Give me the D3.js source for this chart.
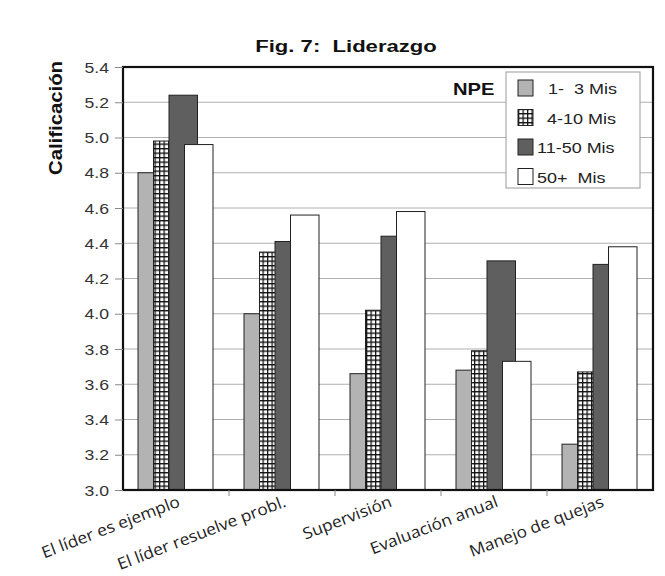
<!DOCTYPE html>
<html>
<head>
<meta charset="utf-8">
<script src="https://cdn.jsdelivr.net/npm/d3@7"></script>
<style>
  body { margin: 0; background: #fff; }
  text { font-family: "Liberation Sans", Arial, sans-serif; white-space: pre; }
</style>
</head>
<body>
<div id="chart"></div>
<script>
const categories = ["El líder es ejemplo", "El líder resuelve probl.", "Supervisión", "Evaluación anual", "Manejo de quejas"];
const seriesNames = ["1-  3 Mis", "4-10 Mis", "11-50 Mis", "50+  Mis"];
const s1to3 = [4.80, 4.00, 3.66, 3.68, 3.26];
const s4to10 = [4.98, 4.35, 4.02, 3.79, 3.67];
const s11to50 = [5.24, 4.41, 4.44, 4.30, 4.28];
const s50plus = [4.96, 4.56, 4.58, 3.73, 4.38];
const yTicks = [3.0, 3.2, 3.4, 3.6, 3.8, 4.0, 4.2, 4.4, 4.6, 4.8, 5.0, 5.2, 5.4];

const seriesValues = [s1to3, s4to10, s11to50, s50plus];

const width = 665, height = 576;
const margin = { top: 67, right: 12, bottom: 86, left: 123 };
const innerW = width - margin.left - margin.right;
const innerH = height - margin.top - margin.bottom;

// the original text is a bit wider than it is tall
const sx = 1.26;

const svg = d3.select("#chart")
  .append("svg")
  .attr("width", width)
  .attr("height", height);

const defs = svg.append("defs");
const pat = defs.append("pattern")
  .attr("id", "grid")
  .attr("patternUnits", "userSpaceOnUse")
  .attr("width", 4.5)
  .attr("height", 4.5);
pat.append("rect").attr("width", 4.5).attr("height", 4.5).attr("fill", "#fff");
pat.append("path")
  .attr("d", "M0,0.6H4.5M0.6,0V4.5")
  .attr("stroke", "#111")
  .attr("stroke-width", 1.3);

const fills = ["#b3b3b3", "url(#grid)", "#5f5f5f", "#ffffff"];

const g = svg.append("g")
  .attr("transform", `translate(${margin.left},${margin.top})`);

const x0 = d3.scaleBand()
  .domain(categories)
  .range([0, innerW]);

const x1 = d3.scaleBand()
  .domain(seriesNames)
  .range([15, 15 + 4 * 15.5]);

const barW = 28.5;

const y = d3.scaleLinear()
  .domain([3.0, 5.4])
  .range([innerH, 0]);

// gridlines
g.append("g")
  .selectAll("line")
  .data(yTicks)
  .enter().append("line")
  .attr("x1", 0)
  .attr("x2", innerW)
  .attr("y1", d => y(d))
  .attr("y2", d => y(d))
  .attr("stroke", "#b0b0b0")
  .attr("stroke-width", 1);

// bars, drawn series by series so later ones sit on top
categories.forEach((cat, ci) => {
  seriesNames.forEach((s, si) => {
    const v = seriesValues[si][ci];
    g.append("rect")
      .attr("x", x0(cat) + x1(s))
      .attr("y", y(v))
      .attr("width", barW)
      .attr("height", y(3.0) - y(v))
      .attr("fill", fills[si])
      .attr("stroke", "#222")
      .attr("stroke-width", 1);
  });
});

// frame
g.append("rect")
  .attr("width", innerW)
  .attr("height", innerH)
  .attr("fill", "none")
  .attr("stroke", "#111")
  .attr("stroke-width", 2.2);

// y axis
const yAxis = g.append("g")
  .call(d3.axisLeft(y).tickValues(yTicks).tickFormat(d3.format(".1f")).tickSize(8));
yAxis.select(".domain").remove();
yAxis.selectAll("line").attr("stroke", "#888");
yAxis.selectAll("text")
  .attr("x", null)
  .attr("dy", null)
  .attr("transform", `translate(-14,5) scale(${sx},1)`)
  .attr("font-size", 14)
  .attr("fill", "#333")
  .style("font-family", "'Liberation Sans', Arial, sans-serif");

// x axis ticks at group boundaries
const xAxis = g.append("g")
  .attr("transform", `translate(0,${innerH})`);
xAxis.selectAll("line")
  .data(categories.slice(1))
  .enter().append("line")
  .attr("x1", d => x0(d))
  .attr("x2", d => x0(d))
  .attr("y1", 0)
  .attr("y2", 6)
  .attr("stroke", "#888");

xAxis.selectAll("text")
  .data(categories)
  .enter().append("text")
  .attr("transform", d => `translate(${x0(d) + x0.bandwidth() / 2 + 5},${16}) rotate(-21) scale(1.08,1)`)
  .attr("text-anchor", "end")
  .attr("font-size", 16)
  .attr("fill", "#222")
  .style("font-family", "'Open Sans', sans-serif")
  .text(d => d);

// title
svg.append("text")
  .attr("transform", `translate(346,52) scale(1.3,1)`)
  .attr("text-anchor", "middle")
  .attr("font-size", 17)
  .attr("font-weight", "bold")
  .attr("fill", "#111")
  .text("Fig. 7:  Liderazgo");

// y label
svg.append("text")
  .attr("transform", "translate(62,118) rotate(-90) scale(1.13,1)")
  .attr("text-anchor", "middle")
  .attr("font-size", 18)
  .attr("font-weight", "bold")
  .attr("fill", "#111")
  .text("Calificación");

// NPE
svg.append("text")
  .attr("transform", `translate(453,95) scale(${sx},1)`)
  .attr("font-size", 16)
  .attr("font-weight", "bold")
  .attr("fill", "#111")
  .text("NPE");

// legend
const legend = svg.append("g").attr("transform", "translate(506,72)");
legend.append("rect")
  .attr("width", 134)
  .attr("height", 116)
  .attr("fill", "#fff")
  .attr("stroke", "#999")
  .attr("stroke-width", 1);

const rows = legend.selectAll(".row")
  .data(seriesNames)
  .enter().append("g")
  .attr("class", "row")
  .attr("transform", (d, i) => `translate(12,${16 + i * 29.5})`);

rows.append("rect")
  .attr("x", 0)
  .attr("y", -8)
  .attr("width", 15)
  .attr("height", 16)
  .attr("fill", (d, i) => fills[i])
  .attr("stroke", "#222")
  .attr("stroke-width", 1);

rows.append("text")
  .attr("transform", (d, i) => `translate(${i === 0 ? 30 : (i === 1 ? 29 : 19)},6) scale(1.2,1)`)
  .attr("font-size", 15)
  .attr("fill", "#222")
  .text(d => d);
</script>
</body>
</html>
